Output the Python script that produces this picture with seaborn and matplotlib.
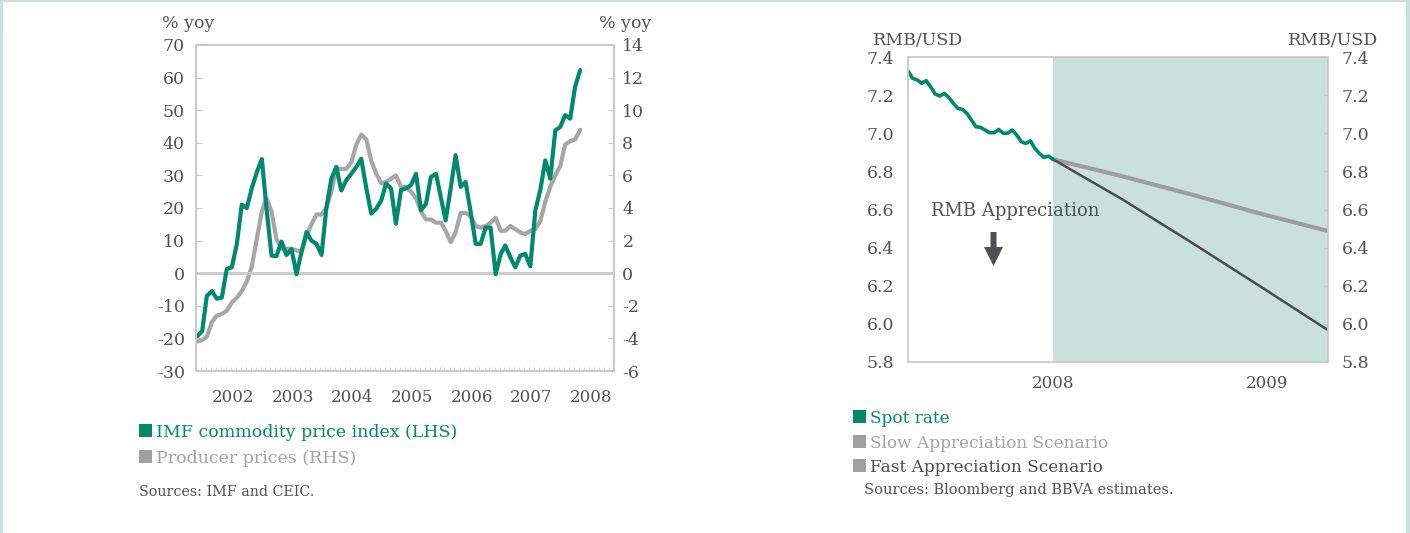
import numpy as np
import pandas as pd
import matplotlib
matplotlib.use("Agg")
import matplotlib.pyplot as plt
import matplotlib.dates as mdates
from matplotlib.patches import Rectangle, Polygon
import seaborn as sns

# left chart: monthly yoy, Jan 2002 - Jun 2008
imf = [-19.3, -17.8, -7, -5.5, -7.8, -7.5, 1.3, 1.8, 9, 21, 20, 26,
       31, 35, 20, 5.4, 5.2, 9.7, 5.6, 7.4, -0.3, 6.4, 12.6, 10,
       9, 5.6, 19.8, 29, 32.6, 25.4, 28.5, 30.5, 32.6, 35.1, 26, 18.3,
       19.8, 22.4, 27.5, 26, 15.2, 25.5, 26, 27, 30.5, 19.3, 21.3, 29.5,
       30.5, 23, 16.2, 26, 36.2, 26.5, 28, 18.8, 9, 9, 14, 14,
       -0.3, 5.9, 8.5, 4.9, 1.8, 5.4, 5.9, 2.1, 19.3, 25.5, 34.6, 29,
       43.8, 44.9, 48.5, 47.4, 57.2, 62.3]
ppi = [-4.2, -4.1, -3.9, -3.0, -2.6, -2.5, -2.3, -1.8, -1.5, -1.1, -0.5, 0.4,
       2.1, 3.8, 4.6, 3.8, 2.1, 1.5, 1.5, 1.5, 1.4, 1.3, 2.3, 3.0,
       3.6, 3.6, 4.0, 5.0, 6.4, 6.4, 6.4, 6.8, 7.9, 8.5, 8.2, 6.9,
       6.1, 5.5, 5.6, 5.8, 6.0, 5.3, 5.3, 5.0, 4.6, 3.8, 3.3, 3.3,
       3.1, 3.1, 2.6, 1.9, 2.5, 3.7, 3.7, 3.5, 2.9, 2.8, 2.9, 3.1,
       3.4, 2.6, 2.6, 2.9, 2.7, 2.5, 2.4, 2.6, 2.7, 3.2, 4.4, 5.3,
       6.0, 6.6, 7.9, 8.1, 8.2, 8.8]
months = pd.date_range("2002-01-01", periods=len(imf), freq="MS") + pd.Timedelta(days=7)

# right chart: RMB/USD
spot = [7.328, 7.288, 7.28, 7.262, 7.276, 7.244, 7.206, 7.195, 7.209, 7.188, 7.157,
        7.13, 7.125, 7.104, 7.069, 7.034, 7.031, 7.017, 7.003, 7.003, 7.02, 7.0,
        7.0, 7.017, 6.99, 6.955, 6.947, 6.96, 6.92, 6.894, 6.873, 6.88, 6.863]
slow = [6.863, 6.775, 6.68, 6.58, 6.487]
fast = [6.863, 6.655, 6.43, 6.2, 5.967]
spot_dates = pd.date_range("2007-04-28", "2008-01-01", periods=len(spot))
fc_dates = pd.date_range("2008-01-01", "2009-04-15", periods=len(slow))

green = "#00896f"
ppi_grey = "#a6a6a8"
txt = "#505153"
spine_c = "#c9c9c9"
shade = "#c9e0dc"
slow_c = "#9d9da0"
fast_c = "#4b4b4d"

sns.set_style("white")
plt.rcParams["font.family"] = ["DejaVu Serif"]
plt.rcParams["axes.unicode_minus"] = False

W, H = 1410, 533
fig = plt.figure(figsize=(W / 100, H / 100), dpi=100)


def px(x, y):
    return x / W, 1 - y / H


def box(x0, y0, x1, y1):
    return [x0 / W, 1 - y1 / H, (x1 - x0) / W, (y1 - y0) / H]


# ---------- left chart
ax = fig.add_axes(box(196, 45, 614, 371))
ax2 = ax.twinx()
sns.lineplot(x=months, y=ppi, ax=ax2, color=ppi_grey, lw=3.0)
sns.lineplot(x=months, y=imf, ax=ax, color=green, lw=3.0)
ax.set_zorder(ax2.get_zorder() + 1)
ax.patch.set_visible(False)
ax.axhline(0, color=spine_c, lw=2, zorder=0)

ax.set_ylim(-30, 70)
ax.set_yticks(range(-30, 71, 10))
ax2.set_ylim(-6, 14)
ax2.set_yticks(range(-6, 15, 2))
ax.set_xlim(pd.Timestamp("2002-01-01"), pd.Timestamp("2009-01-01"))
ax.xaxis.set_major_locator(mdates.MonthLocator(bymonth=8, bymonthday=15))
ax.xaxis.set_major_formatter(mdates.DateFormatter("%Y"))
ax.xaxis.set_minor_locator(mdates.MonthLocator())
ax.tick_params(axis="x", which="major", length=0, pad=13, labelsize=12, labelcolor=txt)
ax.tick_params(axis="x", which="minor", direction="in", length=3, color=spine_c, bottom=True)
ax.tick_params(axis="y", direction="in", length=4, color=spine_c, labelsize=12.5,
               labelcolor=txt, pad=8, left=True)
ax2.tick_params(axis="y", direction="in", length=4, color=spine_c, labelsize=12.5,
                labelcolor=txt, pad=6, right=True)
for a in (ax, ax2):
    a.set_xlabel("")
    a.set_ylabel("")
    for s in a.spines.values():
        s.set_color(spine_c)
        s.set_linewidth(1.3)

fig.text(*px(188, 28), "% yoy", ha="center", va="baseline", fontsize=12.5, color=txt)
fig.text(*px(625, 28), "% yoy", ha="center", va="baseline", fontsize=12.5, color=txt)

# ---------- right chart
bx = fig.add_axes(box(908, 57, 1328, 362))
x0, x1 = pd.Timestamp("2007-04-28"), pd.Timestamp("2009-04-15")
bx.axvspan(pd.Timestamp("2008-01-01"), x1, color=shade, lw=0, zorder=0)
sns.lineplot(x=fc_dates, y=slow, ax=bx, color=slow_c, lw=3.0)
sns.lineplot(x=fc_dates, y=fast, ax=bx, color=fast_c, lw=1.8)
sns.lineplot(x=spot_dates, y=spot, ax=bx, color=green, lw=2.6)
bx.set_xlim(x0, x1)
bx.set_ylim(5.8, 7.4)
yt = np.round(np.arange(5.8, 7.41, 0.2), 1)
bx.set_yticks(yt)
bx.set_yticklabels([f"{v:.1f}" for v in yt])
bx.xaxis.set_major_locator(mdates.YearLocator())
bx.xaxis.set_major_formatter(mdates.DateFormatter("%Y"))
bx.tick_params(axis="x", length=0, pad=9, labelsize=12, labelcolor=txt)
bx.tick_params(axis="y", direction="in", length=3, color=spine_c, labelsize=12.5,
               labelcolor=txt, pad=10, left=False, right=True, labelright=True)
bx.set_xlabel("")
bx.set_ylabel("")
for s in bx.spines.values():
    s.set_color(spine_c)
    s.set_linewidth(1.3)

fig.text(*px(873, 45), "RMB/USD", ha="left", va="baseline", fontsize=12.5, color=txt)
fig.text(*px(1378, 45), "RMB/USD", ha="right", va="baseline", fontsize=12.5, color=txt)
fig.text(*px(931, 216), "RMB Appreciation", ha="left", va="baseline", fontsize=13, color=txt)
arrow = [(990.5, 232), (996.5, 232), (996.5, 247), (1003, 247), (993.5, 266),
         (984, 247), (990.5, 247)]
fig.add_artist(Polygon([px(*p) for p in arrow], closed=True, transform=fig.transFigure,
                       color="#505052", lw=0))

# ---------- legends and sources
def entry(x, y, label, sq, tc, size=12.5):
    fig.add_artist(Rectangle(px(x, y), 13 / W, 13 / H, transform=fig.transFigure,
                             color=sq, lw=0))
    fig.text(*px(x + 17, y), label, ha="left", va="baseline", fontsize=size, color=tc)


entry(139, 437, "IMF commodity price index (LHS)", green, green)
entry(139, 463, "Producer prices (RHS)", "#a0a0a3", "#a3a3a5")
fig.text(*px(139, 496), "Sources: IMF and CEIC.", fontsize=10.3, color=txt, va="baseline")

entry(853, 423, "Spot rate", green, green, 12.2)
entry(853, 448, "Slow Appreciation Scenario", "#a0a0a3", "#a3a3a5", 12.2)
entry(853, 472, "Fast Appreciation Scenario", "#a0a0a3", "#4b4b4d", 12.2)
fig.text(*px(864, 494), "Sources: Bloomberg and BBVA estimates.", fontsize=10.5,
         color=txt, va="baseline")

# page frame
for r in [(0, 0, 3, H), (0, 0, W, 2), (W - 4, 0, W, H)]:
    fig.add_artist(Rectangle((r[0] / W, 1 - r[3] / H), (r[2] - r[0]) / W, (r[3] - r[1]) / H,
                             transform=fig.transFigure, color=shade, lw=0))

fig.savefig("out.png", dpi=100)
